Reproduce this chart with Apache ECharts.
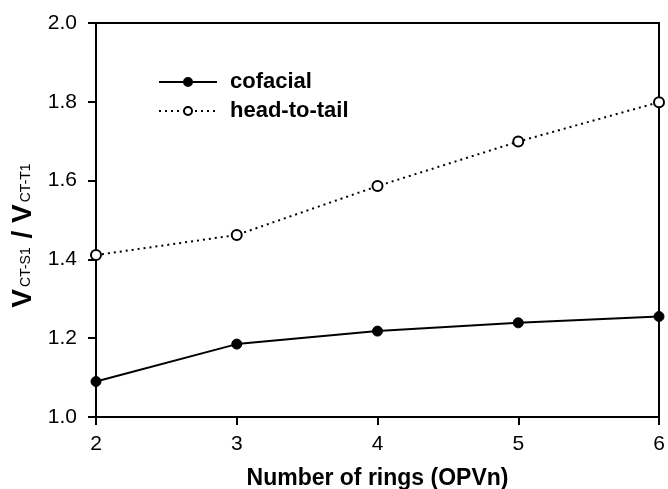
<!DOCTYPE html>
<html>
<head>
<meta charset="utf-8">
<script src="https://cdn.jsdelivr.net/npm/echarts@6/dist/echarts.min.js"></script>
<style>
  html, body { margin: 0; padding: 0; background: #fff; }
  #chart { width: 668px; height: 489px; }
</style>
</head>
<body>
<div id="chart"></div>
<script>
// number of rings (OPVn)
var rings = [2, 3, 4, 5, 6];
var cofacial = [1.09, 1.185, 1.218, 1.239, 1.255];
var headToTail = [1.411, 1.462, 1.586, 1.699, 1.799];

function pairs(xs, ys) {
    var out = [];
    for (var i = 0; i < xs.length; i++) {
        out.push([xs[i], ys[i]]);
    }
    return out;
}

var myChart = echarts.init(document.getElementById('chart'));

var option = {
    backgroundColor: '#fff',
    animation: false,
    grid: {
        left: 96, right: 9, top: 23, bottom: 72,
        outerBoundsMode: 'none',
        containLabel: false,
        show: true,
        borderColor: '#000',
        borderWidth: 2
    },
    legend: {
        orient: 'vertical',
        left: 153,
        top: 66,
        itemWidth: 58,
        itemHeight: 10,
        itemGap: 7,
        data: ['cofacial', 'head-to-tail'],
        textStyle: {fontFamily: 'Liberation Sans', fontWeight: 'bold', fontSize: 22, color: '#000', padding: [0, 0, 0, 8]}
    },
    xAxis: {
        type: 'value',
        min: 2, max: 6, interval: 1,
        name: 'Number of rings (OPVn)',
        nameLocation: 'middle',
        nameGap: 50,
        nameTextStyle: {fontFamily: 'Liberation Sans', fontWeight: 'bold', fontSize: 23, color: '#000'},
        axisLine: {lineStyle: {color: '#000', width: 2}},
        axisTick: {length: 8, lineStyle: {color: '#000', width: 2}},
        axisLabel: {margin: 17, fontFamily: 'Liberation Sans', fontSize: 21, color: '#000'},
        splitLine: {show: false}
    },
    yAxis: {
        type: 'value',
        min: 1.0, max: 2.0, interval: 0.2,
        name: '{v|V}{s|CT-S1}{v| / V}{s|CT-T1}',
        nameLocation: 'middle',
        nameRotate: 90,
        nameGap: 58,
        nameTextStyle: {
            color: '#000',
            padding: [0, 30, 0, 0],
            rich: {
                v: {fontFamily: 'Liberation Sans', fontWeight: 'bold', fontSize: 28, color: '#000', lineHeight: 30},
                s: {fontFamily: 'Liberation Sans', fontSize: 14, color: '#000', lineHeight: 30, padding: [6, 1, 0, 2]}
            }
        },
        axisLine: {show: true, lineStyle: {color: '#000', width: 2}},
        axisTick: {show: true, length: 8, lineStyle: {color: '#000', width: 2}},
        axisLabel: {
            margin: 19,
            fontFamily: 'Liberation Sans', fontSize: 21, color: '#000',
            formatter: function (v) { return v.toFixed(1); }
        },
        splitLine: {show: false}
    },
    series: [
        {
            name: 'cofacial',
            type: 'line',
            data: pairs(rings, cofacial),
            symbol: 'circle',
            symbolSize: 10,
            lineStyle: {color: '#000', width: 2, type: 'solid'},
            itemStyle: {color: '#000', borderColor: '#000', borderWidth: 1}
        },
        {
            name: 'head-to-tail',
            type: 'line',
            data: pairs(rings, headToTail),
            symbol: 'circle',
            symbolSize: 10,
            lineStyle: {color: '#000', width: 2, type: [2, 4]},
            itemStyle: {color: '#fff', borderColor: '#000', borderWidth: 2}
        }
    ]
};

myChart.setOption(option);
</script>
</body>
</html>
